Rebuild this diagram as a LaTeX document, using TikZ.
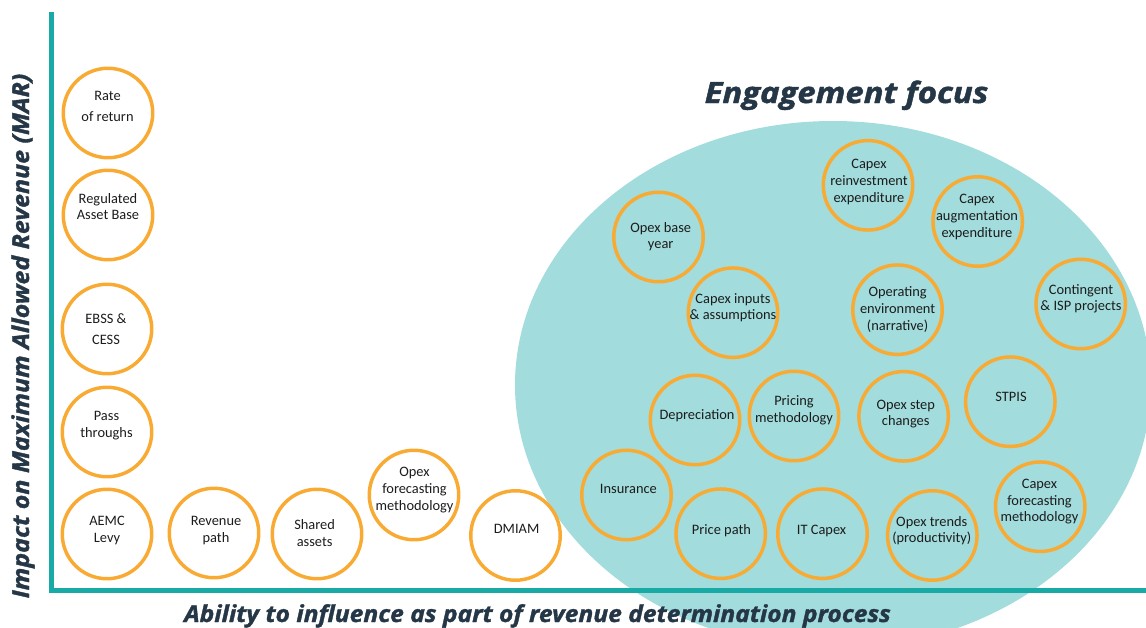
\documentclass[tikz,border=0pt]{standalone}
\usepackage{fontspec}
\setmainfont{Carlito}
\newfontfamily\hf{Open Sans}[BoldItalicFeatures={FakeBold=1.5}]
\definecolor{axisteal}{HTML}{19AAA6}
\definecolor{focusfill}{HTML}{A2DCDC}
\definecolor{bubble}{HTML}{F8AA33}
\definecolor{navy}{HTML}{253746}
\definecolor{ink}{HTML}{1C1C1C}
\newcommand\sx{\rule[-0.3em]{0pt}{1.066em}}
\tikzset{
  bub/.style={circle, draw=bubble, line width=2.6pt, minimum size=67.1pt, inner sep=0pt},
  txt/.style={align=center, inner sep=0pt, text=ink, font=\fontsize{10.8pt}{12.5pt}\selectfont},
  wtxt/.style={txt, font=\fontsize{10.8pt}{15.75pt}\selectfont},
  head/.style={text=navy, inner sep=0pt, anchor=base}
}
\begin{document}
\begin{tikzpicture}[x=0.75pt,y=-0.75pt]
\useasboundingbox (0,0) rectangle (1146,628);
\clip (0,0) rectangle (1146,628);
% engagement focus area
\fill[focusfill] (833,385) ellipse [x radius=318, y radius=264];
% axes
\coordinate (ytop) at (51.5,12);
\coordinate (origin) at (51.5,590);
\coordinate (xend) at (1150,590);
\draw[axisteal, line width=3.75pt, line join=miter] (ytop) -- (origin) -- (xend);
% bubbles
\node[bub] (c1) at (108,113) {};
\node[bub] (c2) at (108,215) {};
\node[bub] (c3) at (107,329) {};
\node[bub] (c4) at (107,432) {};
\node[bub] (c5) at (107,534) {};
\node[bub] (c6) at (214,533) {};
\node[bub] (c7) at (317,534) {};
\node[bub] (c8) at (414,495) {};
\node[bub] (c9) at (515.5,535.5) {};
\node[bub] (c10) at (626.5,495) {};
\node[bub] (c11) at (658.5,237) {};
\node[bub] (c12) at (733,312.7) {};
\node[bub] (c13) at (695,420) {};
\node[bub] (c14) at (794,416) {};
\node[bub] (c15) at (720.7,533.7) {};
\node[bub] (c16) at (822.5,533.7) {};
\node[bub] (c17) at (868,185.3) {};
\node[bub] (c18) at (977.7,221.5) {};
\node[bub] (c19) at (897.5,309.7) {};
\node[bub] (c20) at (903.6,416.3) {};
\node[bub] (c21) at (1010.3,401.7) {};
\node[bub] (c22) at (1080.7,304) {};
\node[bub] (c23) at (932.3,535.5) {};
\node[bub] (c24) at (1040.2,506.7) {};
% bubble texts
\node[wtxt] (t1) at (107.5,107.5) {\sx Rate\\\sx of return};
\node[txt] (t2) at (108,208.3) {\sx Regulated\\\sx Asset Base};
\node[wtxt] (t3) at (106,330.5) {\sx EBSS \&\\\sx CESS};
\node[txt] (t4) at (106.5,425.5) {\sx Pass\\\sx throughs};
\node[txt] (t5) at (107,530.5) {\sx AEMC\\\sx Levy};
\node[txt] (t6) at (216,530.5) {\sx Revenue\\\sx path};
\node[txt] (t7) at (314.6,534.5) {\sx Shared\\\sx assets};
\node[txt] (t8) at (414.5,490) {\sx Opex\\\sx forecasting\\\sx methodology};
\node[txt] (t9) at (516.6,530) {\sx DMIAM};
\node[txt] (t10) at (628.4,490) {\sx Insurance};
\node[txt] (t11) at (660.7,237.3) {\sx Opex base\\\sx year};
\node[txt] (t12) at (733,308.3) {\sx Capex inputs\\\sx \& assumptions};
\node[txt] (t13) at (697,415.7) {\sx Depreciation};
\node[txt] (t14) at (794,410.7) {\sx Pricing\\\sx methodology};
\node[txt] (t15) at (721.4,530.7) {\sx Price path};
\node[txt] (t16) at (821.6,530.7) {\sx IT Capex};
\node[txt] (t17) at (869,182.3) {\sx Capex\\\sx reinvestment\\\sx expenditure};
\node[txt] (t18) at (977,217) {\sx Capex\\\sx augmentation\\\sx expenditure};
\node[txt] (t19) at (897.6,310) {\sx Operating\\\sx environment\\\sx (narrative)};
\node[txt] (t20) at (905.7,414) {\sx Opex step\\\sx changes};
\node[txt] (t21) at (1011,397.7) {\sx STPIS};
\node[txt] (t22) at (1081,299.3) {\sx Contingent\\\sx \& ISP projects};
\node[txt] (t23) at (931.8,531) {\sx Opex trends\\\sx (productivity)};
\node[txt] (t24) at (1039.5,501.7) {\sx Capex\\\sx forecasting\\\sx methodology};
% headings
\node[head, font=\hf\bfseries\itshape\fontsize{22pt}{26pt}\selectfont] (focus) at (846.5,103) {\scalebox{1.12}[1]{Engagement focus}};
\node[head, font=\hf\bfseries\itshape\fontsize{17.5pt}{21pt}\selectfont] (xlab) at (537.5,622) {\scalebox{1.055}[1]{Ability to influence as part of revenue determination process}};
\node[head, font=\hf\bfseries\itshape\fontsize{17.5pt}{21pt}\selectfont, rotate=90] (ylab) at (29,336) {\scalebox{1.07}[1]{Impact on Maximum Allowed Revenue (MAR)}};
\end{tikzpicture}
\end{document}
